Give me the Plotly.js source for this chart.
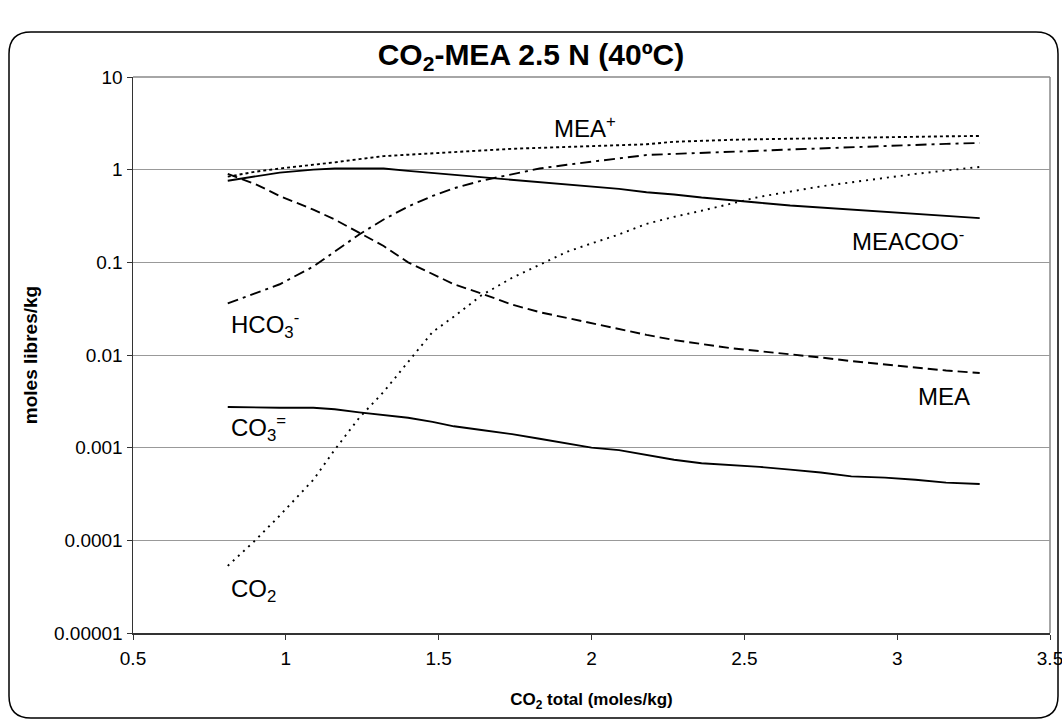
<!DOCTYPE html>
<html>
<head>
<meta charset="utf-8">
<script src="https://cdn.plot.ly/plotly-3.0.1.min.js"></script>
<style>
  html, body { margin: 0; padding: 0; background: #ffffff; }
  #chart { width: 1062px; height: 722px; }
</style>
</head>
<body>
<div id="chart"></div>
<script>
// Total CO2 loading (moles/kg)
const co2Total = [0.81, 0.90, 0.98, 1.09, 1.16, 1.24, 1.32, 1.40, 1.48, 1.55, 1.64, 1.74, 1.83, 1.92,
                  2.00, 2.09, 2.18, 2.27, 2.36, 2.46, 2.55, 2.65, 2.75, 2.85, 2.96, 3.06, 3.16, 3.27];

// Free species concentrations (moles/kg)
const meaPlus = [0.84, 0.95, 1.03, 1.12, 1.20, 1.30, 1.40, 1.45, 1.50, 1.55, 1.62, 1.68, 1.72, 1.76,
                 1.80, 1.84, 1.88, 2.00, 2.06, 2.10, 2.13, 2.16, 2.20, 2.22, 2.25, 2.27, 2.29, 2.31];
const meaCoo = [0.76, 0.85, 0.93, 1.00, 1.03, 1.03, 1.03, 0.97, 0.92, 0.88, 0.83, 0.77, 0.73, 0.69,
                0.66, 0.62, 0.57, 0.54, 0.50, 0.47, 0.44, 0.41, 0.39, 0.37, 0.345, 0.33, 0.315, 0.30];
const hco3 = [0.036, 0.046, 0.058, 0.09, 0.13, 0.20, 0.29, 0.40, 0.52, 0.63, 0.76, 0.90, 1.03, 1.13,
              1.22, 1.32, 1.44, 1.48, 1.51, 1.55, 1.60, 1.65, 1.70, 1.75, 1.80, 1.85, 1.90, 1.94];
const mea = [0.90, 0.70, 0.52, 0.37, 0.29, 0.21, 0.15, 0.10, 0.075, 0.058, 0.046, 0.035, 0.029, 0.025,
             0.022, 0.019, 0.0165, 0.0145, 0.0132, 0.0118, 0.011, 0.0102, 0.0094, 0.0086, 0.0079, 0.0073, 0.0068, 0.0064];
const co3 = [0.00275, 0.0027, 0.0027, 0.0027, 0.0026, 0.0024, 0.00225, 0.0021, 0.0019, 0.0017, 0.00155, 0.0014, 0.00125, 0.00112,
             0.0010, 0.00094, 0.00084, 0.00074, 0.00068, 0.00065, 0.00062, 0.00058, 0.00054, 0.00049, 0.000475, 0.00045, 0.00042, 0.000405];
const co2Free = [5.3e-5, 1.0e-4, 1.85e-4, 4.5e-4, 9.5e-4, 2.1e-3, 4.0e-3, 8.5e-3, 0.0177, 0.026, 0.044, 0.068, 0.095, 0.13,
                 0.16, 0.20, 0.26, 0.31, 0.36, 0.43, 0.51, 0.58, 0.66, 0.73, 0.82, 0.90, 0.98, 1.07];

// Axis ticks
const yTickVals = [0.00001, 0.0001, 0.001, 0.01, 0.1, 1, 10];
const yTickText = ['0.00001', '0.0001', '0.001', '0.01', '0.1', '1', '10'];
const xTickVals = [0.5, 1, 1.5, 2, 2.5, 3, 3.5];
const xTickText = ['0.5', '1', '1.5', '2', '2.5', '3', '3.5'];

const FONT = 'Liberation Sans, Arial, Helvetica, sans-serif';

function series(name, y, dash) {
  return {
    type: 'scatter', mode: 'lines', name: name,
    x: co2Total, y: y,
    line: { color: '#000000', width: 1.9, dash: dash },
    hoverinfo: 'x+y+name'
  };
}

const traces = [
  series('MEA+', meaPlus, '3px,3px'),
  series('HCO3-', hco3, '11px,5px,3px,5px'),
  series('MEACOO-', meaCoo, 'solid'),
  series('MEA', mea, '10px,5px'),
  series('CO3=', co3, 'solid'),
  series('CO2', co2Free, '2px,5px')
];

const labelFont = { family: FONT, size: 24, color: '#000000' };
function label(text, x, y) {
  return { text: text, x: x, y: Math.log10(y), xref: 'x', yref: 'y',
           xanchor: 'left', yanchor: 'middle', showarrow: false, font: labelFont };
}

// Rounded frame around the whole chart, in paper units
const L = 133, R = 1050, T = 77, B = 633;
const px = v => (v - L) / (R - L);
const py = v => (B - v) / (B - T);
const fx0 = 9, fx1 = 1058, fy0 = 32, fy1 = 718, rad = 22;
const framePath =
  'M ' + px(fx0 + rad) + ',' + py(fy0) +
  ' L ' + px(fx1 - rad) + ',' + py(fy0) +
  ' Q ' + px(fx1) + ',' + py(fy0) + ' ' + px(fx1) + ',' + py(fy0 + rad) +
  ' L ' + px(fx1) + ',' + py(fy1 - rad) +
  ' Q ' + px(fx1) + ',' + py(fy1) + ' ' + px(fx1 - rad) + ',' + py(fy1) +
  ' L ' + px(fx0 + rad) + ',' + py(fy1) +
  ' Q ' + px(fx0) + ',' + py(fy1) + ' ' + px(fx0) + ',' + py(fy1 - rad) +
  ' L ' + px(fx0) + ',' + py(fy0 + rad) +
  ' Q ' + px(fx0) + ',' + py(fy0) + ' ' + px(fx0 + rad) + ',' + py(fy0) + ' Z';

const layout = {
  width: 1062, height: 722,
  margin: { l: L, r: 1062 - R, t: T, b: 722 - B, pad: 0 },
  paper_bgcolor: '#ffffff', plot_bgcolor: '#ffffff',
  showlegend: false,
  font: { family: FONT, color: '#000000' },
  title: {
    text: '<b>CO<sub>2</sub>-MEA 2.5 N (40ºC)</b>',
    font: { family: FONT, size: 30, color: '#000000' },
    x: 0.5, xanchor: 'center', xref: 'container',
    y: 1 - 54 / 722, yanchor: 'middle', yref: 'container'
  },
  xaxis: {
    type: 'linear', range: [0.5, 3.5], autorange: false,
    tickmode: 'array', tickvals: xTickVals, ticktext: xTickText,
    ticks: 'outside', ticklen: 5, tickwidth: 1, tickcolor: '#333333',
    ticklabelstandoff: 3, ticklabeloverflow: 'allow',
    showline: true, linecolor: '#333333', linewidth: 1.5,
    showgrid: false, zeroline: false,
    tickfont: { family: FONT, size: 19, color: '#000000' },
    title: { text: '<b>CO<sub>2</sub> total (moles/kg)</b>', font: { family: FONT, size: 17, color: '#000000' }, standoff: 25 },
    automargin: false
  },
  yaxis: {
    type: 'log', range: [-5, 1], autorange: false,
    tickmode: 'array', tickvals: yTickVals, ticktext: yTickText,
    ticks: 'outside', ticklen: 5, tickwidth: 1, tickcolor: '#333333',
    ticklabeloverflow: 'allow',
    showline: true, linecolor: '#333333', linewidth: 1.5,
    showgrid: true, gridcolor: '#999999', gridwidth: 1,
    zeroline: false,
    tickfont: { family: FONT, size: 19, color: '#000000' },
    title: { text: '<b>moles libres/kg</b>', font: { family: FONT, size: 19, color: '#000000' }, standoff: 11 },
    automargin: false
  },
  shapes: [
    { type: 'line', xref: 'paper', yref: 'paper', x0: 0, x1: 1, y0: 1, y1: 1,
      line: { color: '#888888', width: 1.5 }, layer: 'below' },
    { type: 'line', xref: 'paper', yref: 'paper', x0: 1, x1: 1, y0: 0, y1: 1,
      line: { color: '#888888', width: 1.5 }, layer: 'below' },
    { type: 'path', xref: 'paper', yref: 'paper', path: framePath,
      line: { color: '#000000', width: 1.5 }, fillcolor: 'rgba(0,0,0,0)', layer: 'below' }
  ],
  annotations: [
    label('MEA<sup>+</sup>', 1.87, 2.9),
    label('MEACOO<sup>-</sup>', 2.845, 0.175),
    label('HCO<sub>3</sub><sup>-</sup>', 0.815, 0.021),
    label('MEA', 3.06, 0.0036),
    label('CO<sub>3</sub><sup>=</sup>', 0.815, 0.00163),
    label('CO<sub>2</sub>', 0.815, 0.000029)
  ]
};

Plotly.newPlot('chart', traces, layout, { staticPlot: true, displayModeBar: false });
</script>
</body>
</html>
